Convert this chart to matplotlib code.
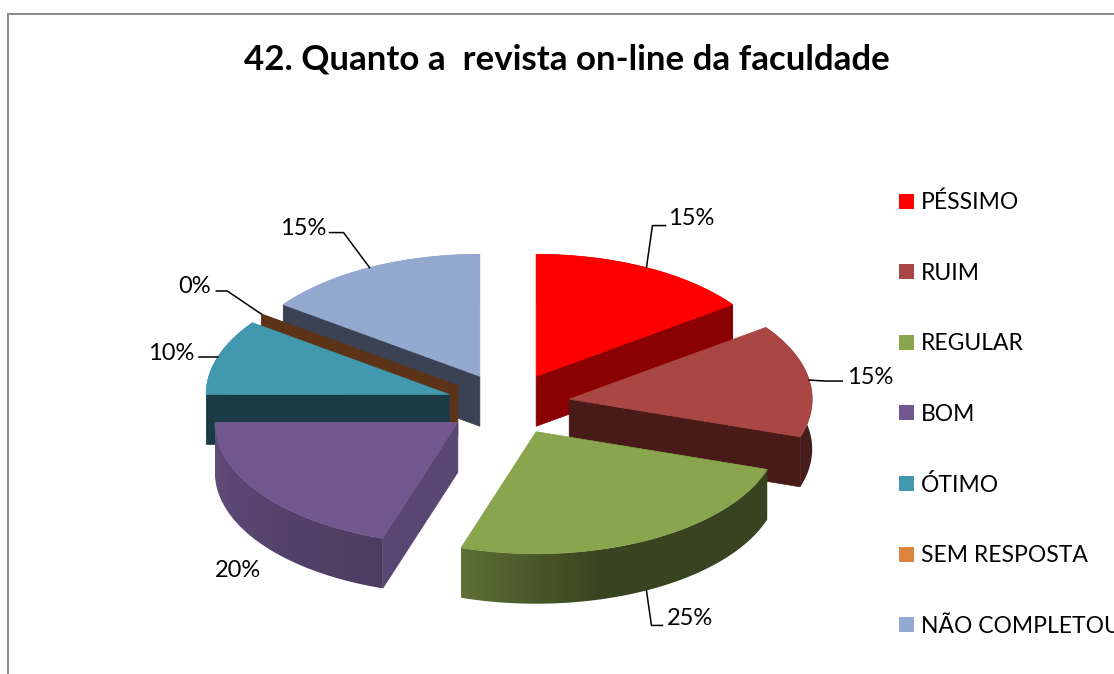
import numpy as np
import matplotlib
matplotlib.use('Agg')
import matplotlib.pyplot as plt
from matplotlib.patches import Polygon, Rectangle

plt.rcParams['font.family'] = ['Lato', 'DejaVu Sans']

title = '42. Quanto a  revista on-line da faculdade'
labels = ['PÉSSIMO', 'RUIM', 'REGULAR', 'BOM', 'ÓTIMO', 'SEM RESPOSTA', 'NÃO COMPLETOU']
values = [15, 15, 25, 20, 10, 0, 15]

top_colors = ['#FF0000', '#AA4643', '#89A54E', '#71588F', '#4198AF', '#5C3317', '#93A9CF']
face_colors = ['#8B0000', '#481B18', '#38431F', '#5A4672', '#1A3B45', '#5C3317', '#3B4254']
legend_colors = ['#FF0000', '#AA4643', '#89A54E', '#71588F', '#4198AF', '#DB843D', '#93A9CF']

# back to front
draw_order = [6, 5, 0, 4, 1, 3, 2]

# pie geometry in pixels
cx, cy = 508, 404
rx, ry = 243, 122
explode = 0.255
depth = 50

# label offsets from the anchor on the slice edge: elbow, end of line, text position
leaders = {
    0: ((6, -42), (19, -42), (22, -49)),
    1: ((16, 1), (33, 1), (38, -3)),
    2: ((5, 35), (16, 35), (20, 28)),
    3: (None, None, (-46, 27)),
    4: (None, (-19, 0), (-70, -3)),
    5: ((-34, -23), (-45, -23), (-83, -28)),
    6: ((-26, -35), (-40, -35), (-90, -39)),
}
has_depth = [False, False, True, True, False, False, False]


def point(a, x0, y0):
    return x0 + rx * np.sin(a), y0 - ry * np.cos(a)


def arc_shade(deg):
    return np.interp(deg, [0, 165, 198, 270, 360], [0.42, 0.41, 0.68, 0.87, 0.87])


fig = plt.figure(figsize=(11.14, 6.74), dpi=100)
ax = fig.add_axes([0, 0, 1, 1])
ax.axis('off')

# chart frame, cut off by the crop on the right and bottom
ax.plot([8, 8, 1114], [674, 14, 14], color='#8C8C8C', lw=1.5, solid_joinstyle='miter')

ends = np.cumsum(values) * 3.6
starts = ends - np.array(values) * 3.6
apex = []
for s, e in zip(starts, ends):
    m = np.radians((s + e) / 2)
    apex.append((cx + explode * rx * np.sin(m), cy - explode * ry * np.cos(m)))

z = 1
for i in draw_order:
    x0, y0 = apex[i]
    a0, a1 = np.radians(starts[i]), np.radians(ends[i])
    t = np.linspace(a0, a1, max(2, int(ends[i] - starts[i]) * 2 + 1))
    ex, ey = point(t, x0, y0)

    # outer wall, gradient image clipped to the wall outline
    if values[i] > 0:
        base = np.array(matplotlib.colors.to_rgb(top_colors[i]))
        order = np.argsort(ex)
        cols = np.linspace(ex.min(), ex.max(), 200)
        deg = np.interp(cols, ex[order], np.degrees(t)[order])
        grad = base[None, :] * arc_shade(deg)[:, None]
        im = ax.imshow(grad[None, :, :], extent=(ex.min(), ex.max(), ey.max() + depth, ey.min()),
                       aspect='auto', interpolation='bilinear', zorder=z)
        wall = Polygon(list(zip(ex, ey)) + list(zip(ex[::-1], ey[::-1] + depth)), closed=True,
                       transform=ax.transData)
        im.set_clip_path(wall)

    # the cut faces the viewer can see
    faces = []
    if np.sin(a0) < -1e-6:
        faces.append((ex[0], ey[0]))
    if np.sin(a1) > 1e-6:
        faces.append((ex[-1], ey[-1]))
    for px, py in faces:
        ax.add_patch(Polygon([(x0, y0), (px, py), (px, py + depth), (x0, y0 + depth)],
                             closed=True, fc=face_colors[i], ec=face_colors[i], lw=0.5, zorder=z + 0.1))

    # top of the slice
    top = [(x0, y0)] + list(zip(ex, ey))
    ax.add_patch(Polygon(top, closed=True, fc=top_colors[i], ec=top_colors[i], lw=0.5, zorder=z + 0.2))
    z += 1

# percent labels with leader lines
for i in range(len(values)):
    m = np.radians((starts[i] + ends[i]) / 2)
    ax_, ay_ = point(m, *apex[i])
    if has_depth[i]:
        ay_ += depth
    elbow, end, txt = leaders[i]
    if end is not None:
        xs, ys = [ax_], [ay_]
        if elbow is not None:
            xs.append(ax_ + elbow[0])
            ys.append(ay_ + elbow[1])
        xs.append(ax_ + end[0])
        ys.append(ay_ + end[1])
        ax.plot(xs, ys, color='black', lw=1.1, zorder=20)
    ax.text(ax_ + txt[0], ay_ + txt[1], '%d%%' % values[i], fontsize=17,
            ha='left', va='center', color='black', zorder=21)

ax.text(567, 59, title, fontsize=25.1, fontweight='bold', ha='center', va='center', color='black')

# legend
leg_y = 201
for name, col in zip(labels, legend_colors):
    ax.add_patch(Rectangle((899, leg_y - 7.5), 15, 15, fc=col, ec='none'))
    ax.text(921, leg_y + 1.5, name, fontsize=16.5, ha='left', va='center', color='black', clip_on=True)
    leg_y += 70.6

ax.set_xlim(0, 1114)
ax.set_ylim(674, 0)

fig.savefig('out.png', dpi=100)
